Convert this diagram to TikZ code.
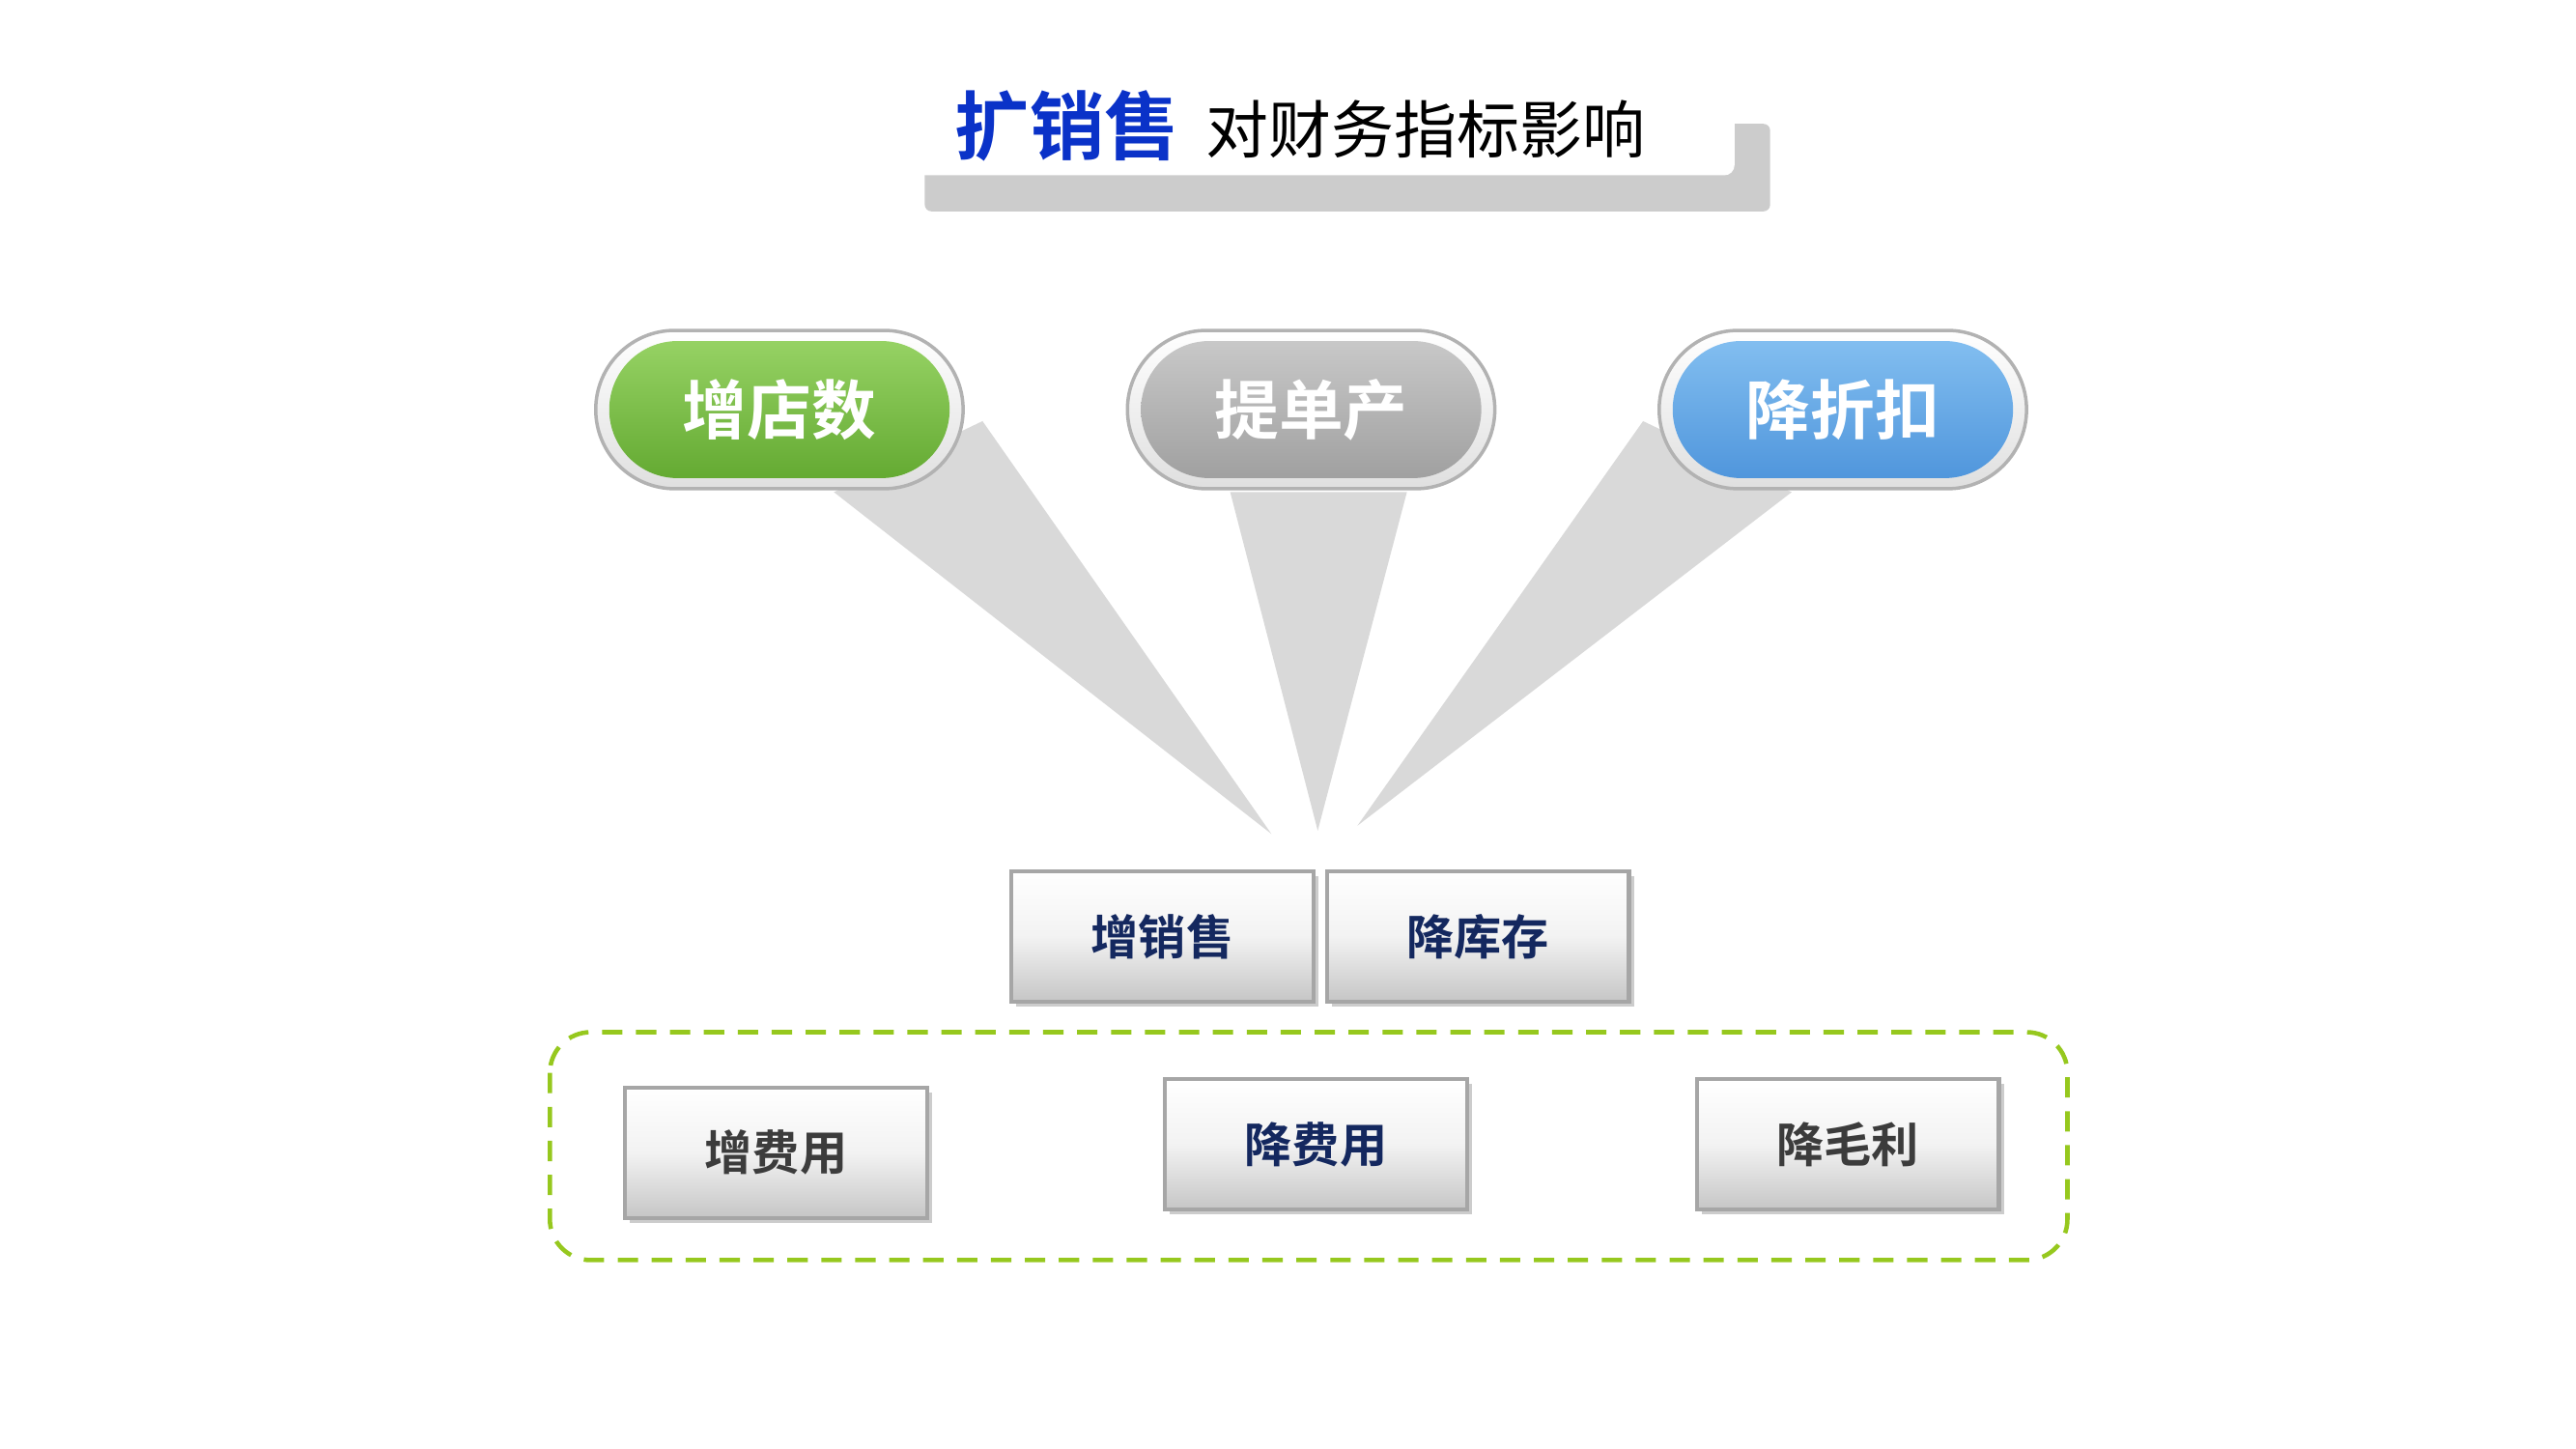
\documentclass[tikz,border=0pt]{standalone}
\usepackage{fontspec}
\newfontfamily\cjk{Noto Sans CJK SC}
\newfontfamily\cjkb{Noto Sans CJK SC Bold}
\usetikzlibrary{shapes,positioning,calc,shadows}
\definecolor{titleblue}{RGB}{10,50,200}
\definecolor{navy}{RGB}{20,40,95}
\definecolor{darkgr}{RGB}{60,60,60}
\definecolor{beam}{RGB}{217,217,217}
\definecolor{dashgreen}{RGB}{150,200,30}
\begin{document}
\begin{tikzpicture}[x=0.0171cm,y=-0.0171cm]
  \tikzset{
    ring/.style={rounded rectangle, draw=gray!60, line width=1pt, top color=white, bottom color=gray!25, minimum width=4.04cm, minimum height=1.64cm},
    pill/.style={rounded rectangle, minimum width=3.76cm, minimum height=1.42cm, text=white, font=\cjkb\fontsize{19pt}{19pt}\selectfont},
    silver/.style={rectangle, draw=gray!70, line width=1.2pt, top color=white, bottom color=gray!45, middle color=gray!10, minimum width=3.13cm, minimum height=1.35cm, font=\cjkb\fontsize{14pt}{14pt}\selectfont, drop shadow={shadow xshift=0.5mm, shadow yshift=-0.5mm, opacity=0.4}}
  }
  \useasboundingbox (0,0) rectangle (1560,877);
  % title
  \fill[gray!40, rounded corners=2pt] (560,75) rectangle (1072,128);
  \node[fill=white, minimum width=8.6cm, minimum height=1.1cm, inner sep=0, rounded corners=3pt] (tbox) at (799,74) {};
  \node[font=\cjkb\fontsize{22pt}{22pt}\selectfont, text=titleblue, anchor=west, inner sep=0] (tbig) at (578,76) {扩销售};
  \node[font=\cjk\fontsize{18.5pt}{18.5pt}\selectfont, anchor=west, inner sep=0] (tsmall) at (730,78) {对财务指标影响};
  % beams
  \fill[beam] (505,298) -- (595,255) -- (770,505) -- cycle;
  \fill[beam] (745,298) -- (852,298) -- (798,503) -- cycle;
  \fill[beam] (995,255) -- (1085,298) -- (822,500) -- cycle;
  % pills
  \node[ring] (r1) at (472,248) {};
  \node[pill, top color=green!55!black!60!white, bottom color=green!60!black!80, shading angle=0, top color={rgb,255:red,150;green,210;blue,100}, bottom color={rgb,255:red,100;green,170;blue,50}] (p1) at (472,248) {增店数};
  \node[ring] (r2) at (794,248) {};
  \node[pill, top color={rgb,255:red,200;green,200;blue,200}, bottom color={rgb,255:red,160;green,160;blue,160}] (p2) at (794,248) {提单产};
  \node[ring] (r3) at (1116,248) {};
  \node[pill, top color={rgb,255:red,130;green,190;blue,240}, bottom color={rgb,255:red,80;green,150;blue,220}] (p3) at (1116,248) {降折扣};
  % boxes
  \node[silver, text=navy] (zxs) at (704,567) {增销售};
  \node[silver, text=navy] (jkc) at (895,567) {降库存};
  \draw[dashgreen, line width=1.3pt, dash pattern=on 6pt off 4pt, rounded corners=12pt] (333,625) rectangle (1252,763);
  \node[silver, text=darkgr] (zfy) at (470,698) {增费用};
  \node[silver, text=navy] (jfy) at (797,693) {降费用};
  \node[silver, text=darkgr] (jml) at (1119,693) {降毛利};
\end{tikzpicture}
\end{document}
